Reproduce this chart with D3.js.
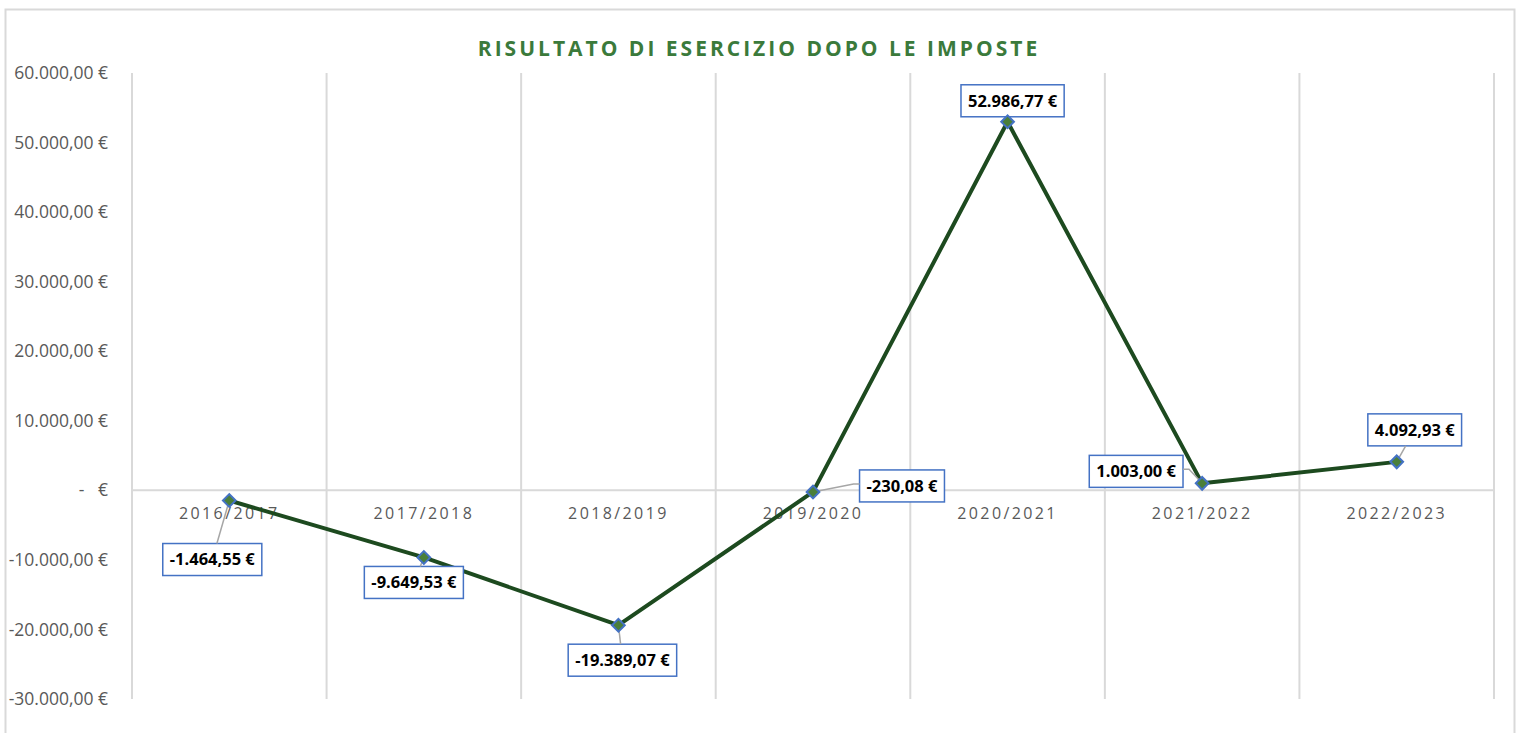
<!DOCTYPE html>
<html>
<head>
<meta charset="utf-8">
<script src="https://cdn.jsdelivr.net/npm/d3@7"></script>
<style>
  html, body { margin: 0; padding: 0; background: #fff; }
  svg { display: block; }
</style>
</head>
<body>
<script>
// data
var years = ["2016/2017", "2017/2018", "2018/2019", "2019/2020", "2020/2021", "2021/2022", "2022/2023"];
var results = [-1464.55, -9649.53, -19389.07, -230.08, 52986.77, 1003.00, 4092.93];
var yTicks = [60000, 50000, 40000, 30000, 20000, 10000, 0, -10000, -20000, -30000];
var title = "RISULTATO DI ESERCIZIO DOPO LE IMPOSTE";

var width = 1519, height = 733;
var margin = {left: 132, right: 25, top: 73, bottom: 34};

var it = d3.formatLocale({decimal: ",", thousands: ".", grouping: [3], currency: ["", " €"], minus: "-"});
var fmt = it.format(",.2f");
function euro(v) { return v === 0 ? "-   €" : fmt(v) + " €"; }

var svg = d3.select("body").append("svg")
    .attr("width", width)
    .attr("height", height);

// chart frame
svg.append("rect")
    .attr("x", 5.5).attr("y", 9.5)
    .attr("width", 1509).attr("height", 740)
    .attr("fill", "#fff")
    .attr("stroke", "#d9d9d9")
    .attr("stroke-width", 2);

var x = d3.scaleBand()
    .domain(years)
    .range([margin.left, width - margin.right]);

var y = d3.scaleLinear()
    .domain([-30000, 60000])
    .range([699, margin.top]);

// title
svg.append("text")
    .attr("x", 759).attr("y", 56)
    .attr("text-anchor", "middle")
    .attr("font-family", "'Open Sans', sans-serif")
    .attr("font-weight", "bold")
    .attr("font-size", 21)
    .attr("letter-spacing", 3)
    .attr("fill", "#3b7a3b")
    .text(title);

// vertical gridlines (category boundaries)
var bounds = years.map(function(d) { return x(d); }).concat([x.range()[1]]);
svg.append("g").selectAll("line")
    .data(bounds)
    .enter().append("line")
    .attr("x1", function(d) { return d; })
    .attr("x2", function(d) { return d; })
    .attr("y1", y(60000))
    .attr("y2", y(-30000))
    .attr("stroke", "#d9d9d9")
    .attr("stroke-width", 2);

// zero axis line
svg.append("line")
    .attr("x1", x.range()[0]).attr("x2", x.range()[1])
    .attr("y1", y(0)).attr("y2", y(0))
    .attr("stroke", "#d9d9d9")
    .attr("stroke-width", 2);

// y axis labels
var yAxis = d3.axisLeft(y)
    .tickValues(yTicks)
    .tickFormat(euro)
    .tickSize(0)
    .tickPadding(24);
var gy = svg.append("g")
    .attr("transform", "translate(" + margin.left + ",0)")
    .call(yAxis);
gy.select(".domain").remove();
gy.selectAll("text")
    .attr("font-family", "'Open Sans', sans-serif")
    .attr("font-size", 17.5)
    .attr("fill", "#595959")
    .style("white-space", "pre");

// category labels
var xAxis = d3.axisBottom(x).tickSize(0).tickPadding(17);
var gx = svg.append("g")
    .attr("transform", "translate(0," + y(0) + ")")
    .call(xAxis);
gx.select(".domain").remove();
gx.selectAll("text")
    .attr("font-family", "'Open Sans', sans-serif")
    .attr("font-size", 16)
    .attr("letter-spacing", 2.4)
    .attr("fill", "#595959");

var pts = results.map(function(v, i) {
  return {v: v, x: x(years[i]) + x.bandwidth() / 2, y: y(v)};
});

// label box offsets from each point (layout only)
var labelOffsets = [[-17, 59], [-10, 25], [4, 35], [89, -6], [5, -21], [-66, -12], [18, -32]];

// series line
svg.append("path")
    .datum(pts)
    .attr("fill", "none")
    .attr("stroke", "#1d4a1f")
    .attr("stroke-width", 4)
    .attr("stroke-linejoin", "round")
    .attr("d", d3.line().x(function(d) { return d.x; }).y(function(d) { return d.y; }));

// labels
var lab = svg.append("g").selectAll("g")
    .data(pts)
    .enter().append("g");

lab.each(function(d, i) {
  var g = d3.select(this);
  var cx = d.x + labelOffsets[i][0], cy = d.y + labelOffsets[i][1];
  var t = g.append("text")
      .attr("x", cx).attr("y", cy)
      .attr("dy", "0.35em")
      .attr("text-anchor", "middle")
      .attr("font-family", "'Open Sans', sans-serif")
      .attr("font-weight", "bold")
      .attr("font-size", 16.5)
      .attr("fill", "#000")
      .text(euro(d.v));
  var w = t.node().getComputedTextLength() + 14, h = 32;
  var bx = cx - w / 2, by = cy - h / 2;
  var inside = d.x >= bx && d.x <= bx + w;
  var dist = inside ? Math.min(Math.abs(d.y - by), Math.abs(d.y - by - h)) : 99;
  if (!inside) {
    // side label: elbow with short horizontal stub at the box edge
    var lx = d.x < bx ? bx : bx + w, ly = cy - 2;
    var stub = d.x < bx ? -6 : 6;
    g.append("path")
        .attr("d", "M" + d.x + "," + d.y + "L" + (lx + stub) + "," + ly + "L" + lx + "," + ly)
        .attr("fill", "none").attr("stroke", "#a6a6a6").attr("stroke-width", 1.5);
  } else if (dist > 8) {
    // line towards the box centre, clipped at the box edge
    var ey = d.y < by ? by : by + h;
    var ex = d.x + (cx - d.x) * (ey - d.y) / (cy - d.y);
    g.append("line")
        .attr("x1", d.x).attr("y1", d.y)
        .attr("x2", ex).attr("y2", ey)
        .attr("stroke", "#a6a6a6").attr("stroke-width", 1.5);
  }
  g.insert("rect", "text")
      .attr("x", bx).attr("y", by)
      .attr("width", w).attr("height", h)
      .attr("fill", "#fff")
      .attr("stroke", "#4472c4")
      .attr("stroke-width", 1.5);
});

// diamond markers
svg.append("g").selectAll("path")
    .data(pts)
    .enter().append("path")
    .attr("transform", function(d) { return "translate(" + d.x + "," + d.y + ") rotate(45)"; })
    .attr("d", "M-4.5,-4.5H4.5V4.5H-4.5Z")
    .attr("fill", "#4a7f3a")
    .attr("stroke", "#4472c4")
    .attr("stroke-width", 2);
</script>
</body>
</html>
